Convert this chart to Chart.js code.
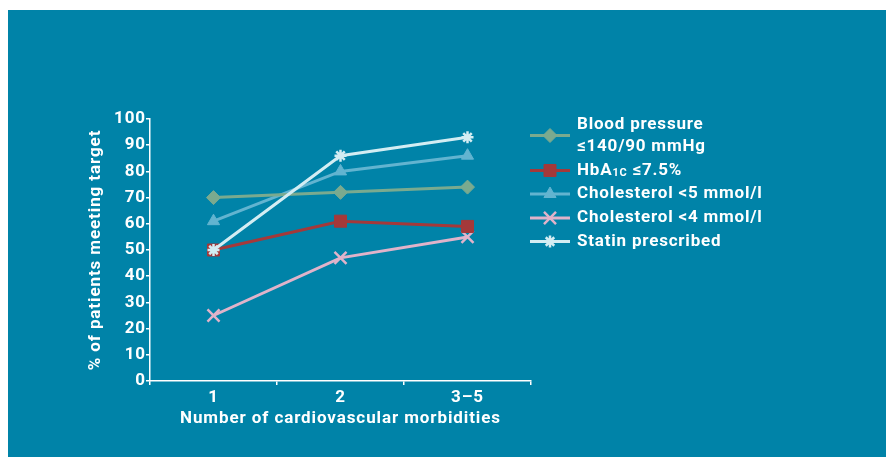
<!DOCTYPE html>
<html>
<head>
<meta charset="utf-8">
<script src="https://cdn.jsdelivr.net/npm/chart.js@4/dist/chart.umd.min.js"></script>
<style>
  html, body { margin: 0; padding: 0; background: #ffffff; }
  #wrap { position: relative; width: 886px; height: 457px; }
  #panel { position: absolute; left: 8px; top: 10px; right: 0; bottom: 0; background: #0083a8; }
  #c { position: absolute; left: 0; top: 0; }
</style>
</head>
<body>
<div id="wrap">
  <div id="panel"></div>
  <canvas id="c" width="886" height="457"></canvas>
</div>
<script>
// ---- Data ----
const categories = ['1', '2', '3\u20135'];
const bloodPressure = [70, 72, 74];
const hba1c = [50, 61, 59];
const cholesterol5 = [61, 80, 86];
const cholesterol4 = [25, 47, 55];
const statin = [50, 86, 93];
const yTicks = [0, 10, 20, 30, 40, 50, 60, 70, 80, 90, 100];
const xTitle = 'Number of cardiovascular morbidities';
const yTitle = '% of patients meeting target';

// ---- Styles ----
const FONT = 'Roboto, "DejaVu Sans", sans-serif';
const WHITE = '#ffffff';
const series = [
  { label: 'Blood pressure', label2: '\u2264140/90 mmHg', data: bloodPressure, color: '#7aaa8f', style: 'rectRot', radius: 7, bw: 1, order: 1 },
  { label: 'HbA', sub: '1C', after: ' \u22647.5%', data: hba1c, color: '#a4393a', style: 'rect', radius: 8.5, bw: 1, order: 1 },
  { label: 'Cholesterol <5 mmol/l', data: cholesterol5, color: '#62b4d0', style: 'triangle', radius: 7, bw: 1, order: 1 },
  { label: 'Cholesterol <4 mmol/l', data: cholesterol4, color: '#e0b3ca', style: 'crossRot', radius: 8.5, bw: 2.5, order: 1 },
  { label: 'Statin prescribed', data: statin, color: '#d3edf3', style: 'star', radius: 6, bw: 2.5, order: 0 }
];

// letter spacing: titles (drawn before datasets) and tick labels (drawn after datasets)
const spacingPlugin = {
  id: 'spacing',
  beforeDraw(chart) { chart.ctx.letterSpacing = '0.9px'; },
  afterDatasetsDraw(chart) { chart.ctx.letterSpacing = '2px'; },
  afterDraw(chart) { chart.ctx.letterSpacing = '0px'; }
};

const legendPlugin = {
  id: 'customLegend',
  afterDraw(chart) {
    const ctx = chart.ctx;
    const rows = [135.5, 170.5, 194, 218, 241.5];
    const x0 = 530, x1 = 570, mx = 550, tx = 577;
    ctx.save();
    ctx.letterSpacing = '0.8px';
    series.forEach((s, i) => {
      const y = rows[i];
      ctx.strokeStyle = s.color;
      ctx.lineWidth = 3;
      ctx.beginPath();
      ctx.moveTo(x0, y); ctx.lineTo(x1, y);
      ctx.stroke();
      ctx.fillStyle = s.color;
      ctx.strokeStyle = s.color;
      ctx.lineWidth = s.bw;
      Chart.helpers.drawPoint(ctx, { pointStyle: s.style, radius: s.radius, borderWidth: s.bw, rotation: 0 }, mx, y);
      ctx.fillStyle = WHITE;
      ctx.textBaseline = 'middle';
      ctx.textAlign = 'left';
      ctx.font = 'bold 17px ' + FONT;
      if (s.label2) {
        ctx.fillText(s.label, tx, y - 11);
        ctx.fillText(s.label2, tx, y + 11);
      } else if (s.sub) {
        ctx.fillText(s.label, tx, y);
        let w = ctx.measureText(s.label).width;
        ctx.font = 'bold 11px ' + FONT;
        ctx.fillText(s.sub, tx + w, y + 3);
        w += ctx.measureText(s.sub).width;
        ctx.font = 'bold 17px ' + FONT;
        ctx.fillText(s.after, tx + w, y);
      } else {
        ctx.fillText(s.label, tx, y);
      }
    });
    ctx.restore();
  }
};

new Chart(document.getElementById('c'), {
  type: 'line',
  data: {
    labels: categories,
    datasets: series.map(s => ({
      label: s.label2 ? s.label + ' ' + s.label2 : (s.sub ? s.label + s.sub + s.after : s.label),
      data: s.data,
      borderColor: s.color,
      backgroundColor: s.color,
      borderWidth: 3,
      pointStyle: s.style,
      pointRadius: s.radius,
      pointHoverRadius: s.radius,
      pointBorderWidth: s.bw,
      pointBackgroundColor: s.color,
      pointBorderColor: s.color,
      tension: 0,
      fill: false,
      order: s.order
    }))
  },
  options: {
    responsive: false,
    animation: false,
    events: [],
    layout: { padding: { left: 80, top: 119, right: 355, bottom: 0 } },
    plugins: {
      legend: { display: false },
      tooltip: { enabled: false }
    },
    scales: {
      x: {
        offset: true,
        afterFit(scale) { scale.height = 76; },
        border: { color: WHITE, width: 1.5 },
        grid: { drawOnChartArea: false, drawTicks: true, tickLength: 4, color: WHITE, lineWidth: 1.5, offset: true },
        ticks: { color: WHITE, padding: 3, font: { family: FONT, size: 17, weight: 'bold' }, maxRotation: 0 },
        title: { display: true, text: xTitle, color: WHITE, padding: { top: 0, bottom: 28 }, font: { family: FONT, size: 17, weight: 'bold' } }
      },
      y: {
        min: 0, max: 100,
        afterFit(scale) { scale.width = 70; },
        afterBuildTicks(scale) { scale.ticks = yTicks.map(v => ({ value: v })); },
        border: { color: WHITE, width: 1.5 },
        grid: { drawOnChartArea: false, drawTicks: true, tickLength: 4, color: WHITE, lineWidth: 1.5 },
        ticks: { color: WHITE, padding: 0, font: { family: FONT, size: 17, weight: 'bold' } },
        title: { display: true, text: yTitle, color: WHITE, padding: { top: 6, bottom: 0 }, font: { family: FONT, size: 17, weight: 'bold' } }
      }
    }
  },
  plugins: [spacingPlugin, legendPlugin]
});
</script>
</body>
</html>
